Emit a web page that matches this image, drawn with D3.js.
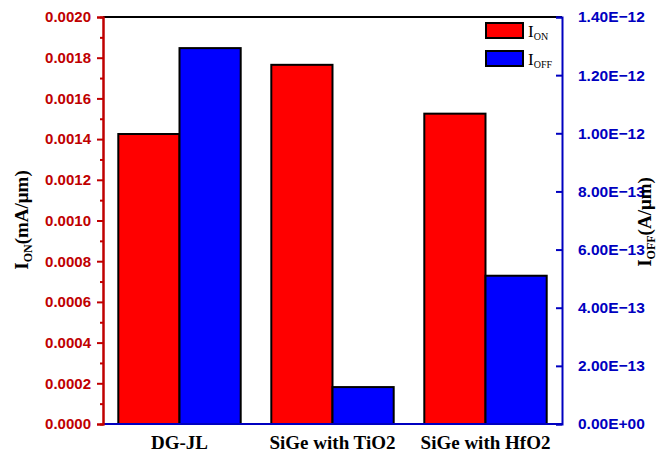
<!DOCTYPE html>
<html>
<head>
<meta charset="utf-8">
<title>ION / IOFF</title>
<style>
  body { margin: 0; background: #fff; }
  svg { display: block; }
</style>
</head>
<body>
<svg width="666" height="455"></svg>
<script src="https://d3js.org/d3.v7.min.js"></script>
<script>
const categories = ["DG-JL", "SiGe with TiO2", "SiGe with HfO2"]
const ionValues = [0.001425, 0.001765, 0.001525]
const ioffValues = [1.293e-12, 0.127e-12, 0.51e-12]
const leftTicks = [0, 0.0002, 0.0004, 0.0006, 0.0008, 0.0010, 0.0012, 0.0014, 0.0016, 0.0018, 0.0020]
const rightTicks = [0, 2e-13, 4e-13, 6e-13, 8e-13, 1e-12, 1.2e-12, 1.4e-12]
const rightTickLabels = ["0.00E+00", "2.00E\u221213", "4.00E\u221213", "6.00E\u221213", "8.00E\u221213", "1.00E\u221212", "1.20E\u221212", "1.40E\u221212"]

const margin = {top: 17, right: 104, bottom: 31, left: 103}
const width = 666, height = 455
const red = "#ff0000", blue = "#0000ff"
const darkRed = "#c00000", darkBlue = "#0000c0"

const svg = d3.select("svg")

const x = d3.scaleBand()
    .domain(categories)
    .range([margin.left, width - margin.right])
    .paddingInner(0.2)
    .paddingOuter(0.1)

const xSeries = d3.scaleBand()
    .domain(["on", "off"])
    .range([0, x.bandwidth()])

const yLeft = d3.scaleLinear()
    .domain([0, 0.002])
    .range([height - margin.bottom, margin.top])

const yRight = d3.scaleLinear()
    .domain([0, 1.4e-12])
    .range([height - margin.bottom, margin.top])

// bars
const groups = svg.append("g")
    .selectAll("g")
    .data(categories)
    .join("g")
    .attr("transform", d => `translate(${x(d)},0)`)

groups.append("rect")
    .attr("x", xSeries("on"))
    .attr("y", (d, i) => yLeft(ionValues[i]))
    .attr("width", xSeries.bandwidth())
    .attr("height", (d, i) => yLeft(0) - yLeft(ionValues[i]))
    .attr("fill", red)
    .attr("stroke", "#000")
    .attr("stroke-width", 2)

groups.append("rect")
    .attr("x", xSeries("off"))
    .attr("y", (d, i) => yRight(ioffValues[i]))
    .attr("width", xSeries.bandwidth())
    .attr("height", (d, i) => yRight(0) - yRight(ioffValues[i]))
    .attr("fill", blue)
    .attr("stroke", "#000")
    .attr("stroke-width", 2)

// frame: top black, bottom blue
svg.append("line")
    .attr("x1", margin.left).attr("x2", width - margin.right)
    .attr("y1", margin.top).attr("y2", margin.top)
    .attr("stroke", "#000").attr("stroke-width", 2)

svg.append("line")
    .attr("x1", margin.left).attr("x2", width - margin.right)
    .attr("y1", yLeft(0)).attr("y2", yLeft(0))
    .attr("stroke", darkBlue).attr("stroke-width", 2)

// left axis
const leftAxis = svg.append("g")
    .attr("transform", `translate(${margin.left},0)`)
    .call(d3.axisLeft(yLeft).tickValues(leftTicks).tickFormat(d3.format(".4f")).tickSize(6).tickPadding(6))

leftAxis.append("g")
    .call(d3.axisLeft(yLeft).tickValues(d3.range(1, 20, 2).map(k => k * 0.0001)).tickFormat("").tickSize(3))

leftAxis.selectAll("path").attr("stroke", darkRed).attr("stroke-width", 2)
leftAxis.selectAll("line").attr("stroke", darkRed).attr("stroke-width", 2)
leftAxis.selectAll("text")
    .attr("fill", darkRed)
    .attr("font-family", "Liberation Sans, Arial, sans-serif")
    .attr("font-weight", "bold")
    .attr("font-size", 15)

// right axis (ticks point inward)
const rightAxis = svg.append("g")
    .attr("transform", `translate(${width - margin.right},0)`)
    .call(d3.axisRight(yRight).tickValues(rightTicks).tickFormat((d, i) => rightTickLabels[i]).tickSize(-6).tickPadding(16))

rightAxis.selectAll("path").attr("stroke", darkBlue).attr("stroke-width", 2)
rightAxis.selectAll("line").attr("stroke", darkBlue).attr("stroke-width", 2)
rightAxis.selectAll("text")
    .attr("fill", darkBlue)
    .attr("font-family", "Liberation Sans, Arial, sans-serif")
    .attr("font-weight", "bold")
    .attr("font-size", 15.5)

// x labels
svg.append("g")
    .selectAll("text")
    .data(categories)
    .join("text")
    .attr("x", d => x(d) + x.bandwidth() / 2)
    .attr("y", 449)
    .attr("text-anchor", "middle")
    .attr("font-family", "Liberation Serif, Times New Roman, serif")
    .attr("font-weight", "bold")
    .attr("font-size", 19)
    .text(d => d)

// axis titles
const title = (tx, ty, sub, unit) => {
    const t = svg.append("text")
        .attr("transform", `translate(${tx},${ty}) rotate(-90)`)
        .attr("text-anchor", "middle")
        .attr("font-family", "Liberation Serif, Times New Roman, serif")
        .attr("font-weight", "bold")
        .attr("font-size", 19)
        .attr("fill", "#000")
    t.append("tspan").text("I")
    t.append("tspan").attr("font-size", 12).attr("dy", 4).text(sub)
    t.append("tspan").attr("dy", -4).text(unit)
}
title(28, 220, "ON", "(mA/μm)")
title(651, 222, "OFF", "(A/μm)")

// legend
const legend = svg.append("g")
const legendItems = [{name: "ON", color: red}, {name: "OFF", color: blue}]
legendItems.forEach((item, i) => {
    const ly = 23 + i * 28
    legend.append("rect")
        .attr("x", 486).attr("y", ly)
        .attr("width", 37).attr("height", 15)
        .attr("fill", item.color)
        .attr("stroke", "#000").attr("stroke-width", 2)
    const t = legend.append("text")
        .attr("x", 528).attr("y", ly + 14)
        .attr("font-family", "Liberation Serif, Times New Roman, serif")
        .attr("font-size", 17)
    t.append("tspan").text("I")
    t.append("tspan").attr("font-size", 10).attr("dy", 3).text(item.name)
})
</script>
</body>
</html>
